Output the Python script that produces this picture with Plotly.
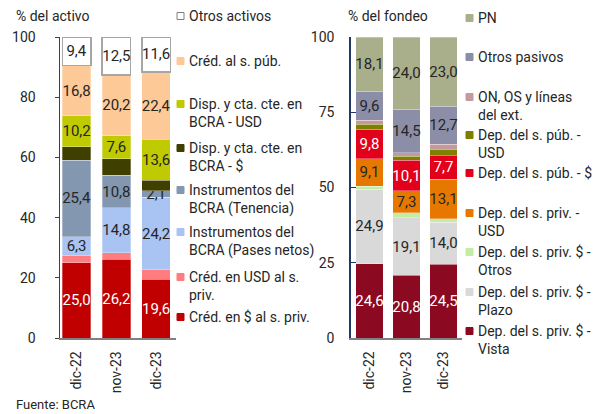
import plotly.graph_objects as go

# page is 604x414 but the body has an 8px margin, so the figure starts at (8, 8)
PAGE_OFF = 8
W, H = 588, 406

cats = ['dic-22', 'nov-23', 'dic-23']

# % del activo
activo_cred_pesos = [25.0, 26.2, 19.6]
activo_cred_usd = [2.4, 2.2, 3.0]
activo_pases = [6.3, 14.8, 24.2]
activo_tenencia = [25.4, 10.8, 2.1]
activo_disp_pesos = [4.5, 5.6, 3.5]
activo_disp_usd = [10.2, 7.6, 13.6]
activo_cred_pub = [16.8, 20.2, 22.4]
activo_otros = [9.4, 12.5, 11.6]

# % del fondeo
fondeo_vista = [24.6, 20.8, 24.5]
fondeo_plazo = [24.9, 19.1, 14.0]
fondeo_priv_otros = [1.0, 1.7, 1.2]
fondeo_priv_usd = [9.1, 7.3, 13.1]
fondeo_pub_pesos = [9.8, 10.1, 7.7]
fondeo_pub_usd = [1.6, 1.4, 2.2]
fondeo_on = [1.3, 1.1, 1.6]
fondeo_otros_pas = [9.6, 14.5, 12.7]
fondeo_pn = [18.1, 24.0, 23.0]


# page pixel -> paper fraction
def fx(p):
    return (p - PAGE_OFF) / W


def fy(p):
    return 1 - (p - PAGE_OFF) / H


FONT = 'Roboto, Arial, sans-serif'
DARK = '#262626'

fig = go.Figure()

# (name, values, color, text color or None, legend y of first line)
left_series = [
    ('Créd. en $ al s. priv.', activo_cred_pesos, '#C00000', 'white', 317),
    ('Créd. en USD al s.<br>priv.', activo_cred_usd, '#FF7C80', None, 277),
    ('Instrumentos del<br>BCRA (Pases netos)', activo_pases, '#A9C3F3', DARK, 232),
    ('Instrumentos del<br>BCRA (Tenencia)', activo_tenencia, '#8497B0', DARK, 190),
    ('Disp. y cta. cte. en<br>BCRA - $', activo_disp_pesos, '#3F3F00', None, 148),
    ('Disp. y cta. cte. en<br>BCRA - USD', activo_disp_usd, '#BFCA00', DARK, 104),
    ('Créd. al s. púb.', activo_cred_pub, '#FDC997', DARK, 61),
    ('Otros activos', activo_otros, 'white', DARK, 16),
]

right_series = [
    ('Dep. del s. priv. $ -<br>Vista', fondeo_vista, '#8B0A22', 'white', 331),
    ('Dep. del s. priv. $ -<br>Plazo', fondeo_plazo, '#D9D9D9', DARK, 292),
    ('Dep. del s. priv. $ -<br>Otros', fondeo_priv_otros, '#C4EDA4', None, 252),
    ('Dep. del s. priv. -<br>USD', fondeo_priv_usd, '#E67800', DARK, 213),
    ('Dep. del s. púb. - $', fondeo_pub_pesos, '#E3001B', 'white', 173),
    ('Dep. del s. púb. -<br>USD', fondeo_pub_usd, '#7F7F00', None, 135),
    ('ON, OS y líneas<br>del ext.', fondeo_on, '#C49AA0', None, 97),
    ('Otros pasivos', fondeo_otros_pas, '#8B8EA6', DARK, 57),
    ('PN', fondeo_pn, '#A9AE8B', DARK, 18),
]


def add_bars(series, xa, ya, width):
    for name, vals, color, tcolor, _ in series:
        outline = dict(color='#A6A6A6', width=1.5) if color == 'white' else dict(color='rgba(255,255,255,0.5)', width=0.6)
        fig.add_trace(go.Bar(
            x=cats, y=vals, name=name.replace('<br>', ' '),
            xaxis=xa, yaxis=ya, width=width,
            marker=dict(color=color, line=outline),
            texttemplate='%{y:.1f}' if tcolor else None,
            textposition='inside' if tcolor else 'none',
            insidetextanchor='middle',
            textangle=0,
            textfont=dict(family=FONT, size=15, color=tcolor or DARK),
            showlegend=False,
        ))


add_bars(left_series, 'x', 'y', 0.72)
add_bars(right_series, 'x2', 'y2', 0.75)

shapes = []
annotations = []


def add_legend(series, sq_x, txt_x):
    for name, vals, color, _, ly in series:
        shapes.append(dict(
            type='rect', xref='paper', yref='paper',
            x0=fx(sq_x), x1=fx(sq_x + 7), y0=fy(ly + 3.5), y1=fy(ly - 3.5),
            fillcolor=color,
            line=dict(color='#808080' if color == 'white' else color, width=1),
        ))
        annotations.append(dict(
            text=name, xref='paper', yref='paper',
            x=fx(txt_x), y=fy(ly - 10), xanchor='left', yanchor='top',
            align='left', showarrow=False,
            font=dict(family=FONT, size=14, color=DARK),
        ))


add_legend(left_series, 177, 187)
add_legend(right_series, 466, 476)

annotations += [
    dict(text='% del activo', xref='paper', yref='paper', x=fx(14), y=fy(16),
         xanchor='left', yanchor='middle', showarrow=False,
         font=dict(family=FONT, size=14, color=DARK)),
    dict(text='% del fondeo', xref='paper', yref='paper', x=fx(346), y=fy(16),
         xanchor='left', yanchor='middle', showarrow=False,
         font=dict(family=FONT, size=14, color=DARK)),
    dict(text='Fuente: BCRA', xref='paper', yref='paper', x=fx(14), y=fy(404),
         xanchor='left', yanchor='middle', showarrow=False,
         font=dict(family=FONT, size=13, color=DARK)),
]

tickfont = dict(family=FONT, size=14, color=DARK)

fig.update_layout(
    width=W, height=H,
    margin=dict(l=0, r=0, t=0, b=0, autoexpand=False),
    paper_bgcolor='white',
    plot_bgcolor='white',
    barmode='stack',
    separators=',.',
    uniformtext=dict(minsize=15, mode='show'),
    font=dict(family=FONT, color=DARK),
    shapes=shapes,
    annotations=annotations,
    xaxis=dict(
        domain=[fx(59.5), fx(176)], range=[-0.43, 2.5],
        showline=True, linecolor='#808080', linewidth=1.5,
        tickangle=-90, tickfont=tickfont, ticks='', ticklabelstandoff=6,
        showgrid=False, zeroline=False, automargin=False,
    ),
    yaxis=dict(
        domain=[fy(338), fy(37)], range=[0, 100],
        tickvals=[0, 20, 40, 60, 80, 100],
        showline=True, linecolor='#404040', linewidth=1,
        ticks='outside', ticklen=4, tickcolor='#404040',
        tickfont=tickfont, ticklabelstandoff=16,
        showgrid=False, zeroline=False, automargin=False,
    ),
    xaxis2=dict(
        domain=[fx(351), fx(462)], range=[-0.5, 2.5], anchor='y2',
        showline=True, linecolor='#808080', linewidth=1.5,
        tickangle=-90, tickfont=tickfont, ticks='', ticklabelstandoff=6,
        showgrid=False, zeroline=False, automargin=False,
    ),
    yaxis2=dict(
        domain=[fy(338), fy(37)], range=[0, 100], anchor='x2',
        tickvals=[0, 25, 50, 75, 100],
        showline=True, linecolor='#1F3864', linewidth=1.5,
        ticks='inside', ticklen=5, tickcolor='#1F3864',
        tickfont=tickfont, ticklabelstandoff=12,
        showgrid=False, zeroline=False, automargin=False,
    ),
)

fig.write_html("out.html")
